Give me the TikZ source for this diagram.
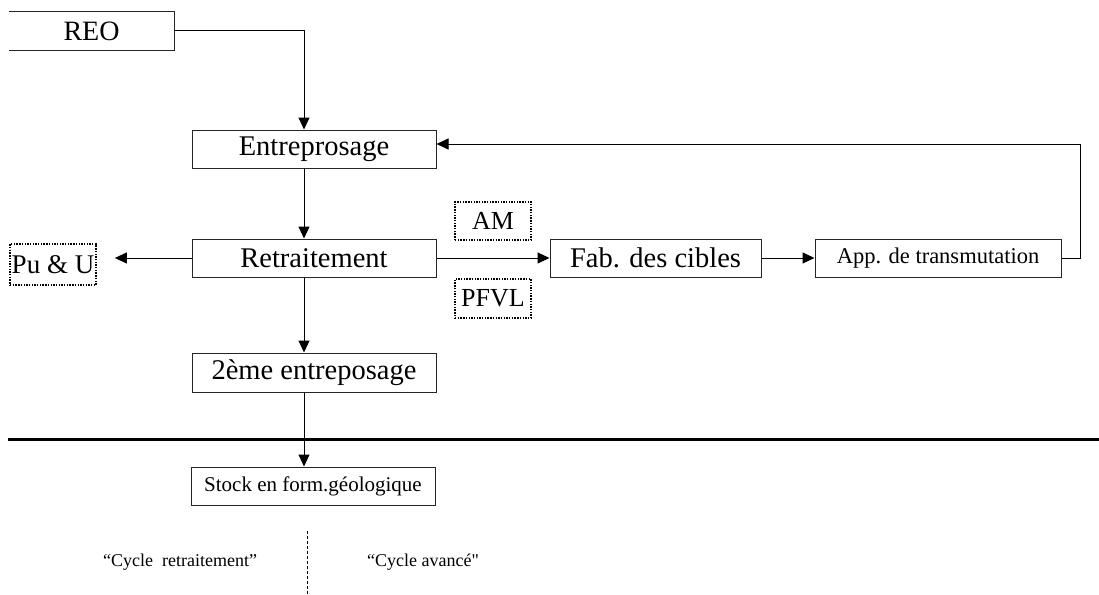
\documentclass[tikz,border=0pt]{standalone}
\usepackage{fontspec}
\setmainfont{Liberation Serif}
\newfontfamily\plainq{Liberation Serif}[Ligatures=TeXOff]
\usetikzlibrary{arrows.meta}
\begin{document}
\begin{tikzpicture}[x=1pt,y=-1pt,
  box/.style={draw=black!85,line width=1pt,inner sep=0pt,font=\fontsize{28.5}{30}\selectfont},
  dotbox/.style={draw=black,line width=1.8pt,dash pattern=on 1.4pt off 1.3pt,inner sep=0pt,font=\fontsize{26}{28}\selectfont},
  conn/.style={line width=1pt,-{Triangle[length=12pt,width=11pt]}},
  note/.style={inner sep=0pt,font=\fontsize{18}{20}\selectfont}]
\useasboundingbox (0,0) rectangle (1099,594);
% boxes
\node[inner sep=0pt,minimum width=165pt,minimum height=38pt,font=\fontsize{28}{30}\selectfont] (reo) at (91.5,31) {REO};
\draw[draw=black!85,line width=1pt] (reo.north west) -- (reo.north east) -- (reo.south east) -- (reo.south west);
\node[box,minimum width=244pt,minimum height=38pt] (ent) at (314,149) {Entreprosage};
\node[box,minimum width=244pt,minimum height=38pt] (ret) at (314,258) {Retraitement};
\node[box,minimum width=244pt,minimum height=39pt] (ent2) at (314,372.5) {2ème entreposage};
\node[box,minimum width=244pt,minimum height=38pt,font=\fontsize{21}{23}\selectfont] (stock) at (313,486) {Stock en form.géologique};
\node[box,minimum width=211pt,minimum height=38pt] (fab) at (655.5,258) {Fab. des cibles};
\node[box,minimum width=246pt,minimum height=38pt,font=\fontsize{22.5}{24}\selectfont] (app) at (938,258) {App. de transmutation};
\node[dotbox,minimum width=86pt,minimum height=41pt,font=\fontsize{27}{29}\selectfont] (pu) at (53,264.5) {Pu \& U};
\node[dotbox,minimum width=76pt,minimum height=38pt] (am) at (493,221) {AM};
\node[dotbox,minimum width=76pt,minimum height=39pt] (pf) at (493,298.5) {PFVL};
% coordinates
\coordinate (c1) at (304,31);
\coordinate (c2) at (1080,258);
\coordinate (c3) at (1080,144);
\coordinate (hl) at (8,439);
\coordinate (hr) at (1099,439);
\coordinate (dv1) at (307,531);
\coordinate (dv2) at (307,594);
% connectors
\draw[conn] (reo.east |- c1) -- (c1) -- (c1 |- ent.north);
\draw[conn] (c1 |- ent.south) -- (c1 |- ret.north);
\draw[conn] (c1 |- ret.south) -- (c1 |- ent2.north);
\draw[conn] (c1 |- ent2.south) -- (c1 |- stock.north);
\draw[conn,shorten >=18pt] (ret.west) -- (pu.east |- ret.west);
\draw[conn] (ret.east) -- (fab.west);
\draw[conn] (fab.east) -- (app.west);
\draw[conn] (app.east) -- (c2) -- (c3) -- (ent.east |- c3);
% separators
\draw[line width=3pt] (hl) -- (hr);
\draw[line width=0.8pt,dash pattern=on 3pt off 2pt] (dv1) -- (dv2);
% notes
\node[note] (n1) at (180,562) {“Cycle\ \ retraitement”};
\node[note] (n2) at (423,562) {“Cycle avancé{\plainq "}};
\end{tikzpicture}
\end{document}
